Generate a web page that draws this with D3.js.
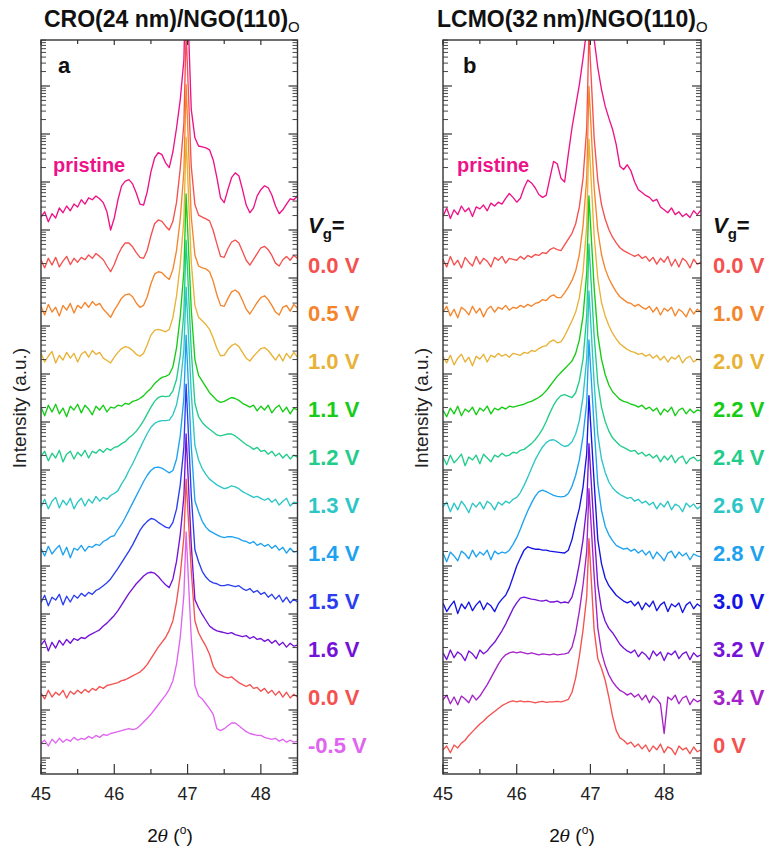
<!DOCTYPE html>
<html><head><meta charset="utf-8">
<script src="https://cdn.jsdelivr.net/npm/d3@7"></script>
<style>
body{margin:0;background:#fff}
svg text{font-family:"Liberation Sans",Arial,sans-serif}
</style>
</head><body>
<svg id="c" width="774" height="851"></svg>
<script>
// 2-theta grid (degrees)
const xGrid = [45.00,45.05,45.10,45.15,45.20,45.25,45.30,45.35,45.40,45.45,45.50,45.55,45.60,45.65,45.70,45.75,45.80,45.85,45.90,45.95,
46.00,46.05,46.10,46.15,46.20,46.25,46.30,46.35,46.40,46.45,46.50,46.55,46.60,46.65,46.70,46.75,46.80,46.85,46.90,46.95,
46.98,47.05,47.10,47.15,47.20,47.25,47.30,47.35,47.40,47.45,47.50,47.55,47.60,47.65,47.70,47.75,47.80,47.85,47.90,47.95,
48.00,48.05,48.10,48.15,48.20,48.25,48.30,48.35,48.40,48.45,48.50];

// Panel a: CRO(24 nm)/NGO(110)
const labelsA = ["pristine","0.0 V","0.5 V","1.0 V","1.1 V","1.2 V","1.3 V","1.4 V","1.5 V","1.6 V","0.0 V","-0.5 V"];
const colorsA = ["#ee1289","#f4514f","#f5852c","#e8b236","#17cc17","#22cc8a","#2cc6c6","#1ea2f0","#2a3ef0","#7412d8","#f4514f","#e064f0"];
const offsetsA = [11.42,10.33,9.33,8.33,7.25,6.29,5.31,4.31,3.29,2.35,1.31,0.31]; // log10 stacking factors
// log10 intensity relative to each trace's background
const a0 = [-0.15,-0.04,-0.25,-0.08,-0.17,0.04,-0.06,0.08,-0.02,0.12,0.06,0.21,0.12,0.25,0.21,0.29,0.23,0.15,-0.04,-0.42,
-0.17,0.21,0.5,0.6,0.63,0.54,0.35,0.12,0.1,0.38,0.79,1.08,1.19,1.15,0.98,0.88,1.21,1.71,2.29,3.13,
5.2,2.1,1.5,1.33,1.31,1.29,1.25,1.04,0.67,0.25,0.15,0.42,0.67,0.77,0.71,0.42,0.1,-0.06,0.04,0.29,0.42,0.5,0.46,0.31,0.08,-0.08,0,0.12,0.23,0.21,0.29];
const a1 = [0.05,-0.12,0.08,-0.06,0.1,-0.1,0.02,0.12,-0.05,0.08,0.0,0.1,0.05,0.15,0.08,0.18,0.12,0.05,-0.08,-0.2,
-0.05,0.15,0.3,0.4,0.4,0.32,0.2,0.1,0.08,0.25,0.55,0.8,0.88,0.85,0.75,0.67,0.85,1.25,1.95,2.9,
4.8,2.0,1.2,0.98,0.94,0.9,0.86,0.66,0.38,0.12,0.1,0.28,0.42,0.46,0.4,0.22,0.04,-0.06,0.06,0.18,0.3,0.33,0.26,0.14,-0.02,-0.08,0.05,0.12,0.04,0.14,0.08];
const a2 = [0.08,-0.1,0.12,-0.04,0.06,-0.12,0.1,0.0,0.14,-0.06,0.1,0.04,0.16,0.06,0.18,0.1,0.14,0.02,-0.06,-0.15,
0.0,0.12,0.25,0.32,0.34,0.28,0.15,0.06,0.1,0.28,0.55,0.75,0.8,0.78,0.7,0.64,0.85,1.25,1.9,2.9,
4.7,1.95,1.15,0.92,0.88,0.86,0.8,0.6,0.32,0.1,0.08,0.24,0.38,0.42,0.36,0.2,0.02,-0.08,0.04,0.16,0.26,0.3,0.22,0.1,-0.04,-0.1,0.06,0.1,-0.02,0.12,0.04];
const a3 = [0.1,-0.08,0.04,0.14,-0.1,0.06,-0.04,0.12,0.0,0.1,-0.08,0.08,0.14,0.02,0.16,0.08,0.12,0.0,-0.05,-0.1,
0.02,0.12,0.2,0.24,0.22,0.16,0.08,0.04,0.1,0.28,0.48,0.58,0.6,0.58,0.55,0.6,0.85,1.3,1.95,2.9,
4.6,2.0,1.1,0.85,0.78,0.7,0.6,0.42,0.2,0.05,0.06,0.18,0.26,0.3,0.24,0.12,0.0,-0.06,0.04,0.12,0.2,0.22,0.16,0.06,-0.04,0.08,-0.06,0.1,0.0,0.12,0.02];
const a4 = [0.06,-0.12,0.1,-0.04,0.12,-0.08,0.04,-0.14,0.08,0.0,0.12,-0.06,0.1,0.02,-0.1,0.08,0.0,0.1,-0.04,0.06,
0.04,0.1,0.08,0.14,0.12,0.18,0.2,0.24,0.3,0.38,0.45,0.55,0.62,0.68,0.7,0.74,0.9,1.3,1.95,2.9,
4.5,2.1,1.05,0.72,0.6,0.48,0.36,0.28,0.2,0.16,0.18,0.22,0.26,0.24,0.2,0.14,0.1,0.06,0.1,-0.02,0.08,0.0,0.1,-0.06,0.04,0.1,-0.04,0.06,-0.08,0.04,0.0];
const a5 = [0.0,0.1,-0.1,0.06,-0.04,0.12,-0.12,0.04,0.1,-0.06,0.08,0.0,0.12,-0.04,0.1,0.06,0.14,0.08,0.16,0.12,
0.18,0.2,0.26,0.3,0.38,0.44,0.52,0.62,0.74,0.88,1.02,1.14,1.22,1.25,1.24,1.25,1.36,1.6,2.1,3.0,
4.5,2.2,1.1,0.82,0.7,0.62,0.56,0.5,0.44,0.42,0.44,0.46,0.46,0.42,0.36,0.3,0.24,0.2,0.14,0.18,0.1,0.12,0.04,0.1,0.0,0.06,-0.04,0.04,-0.06,0.02,-0.02];
const a6 = [-0.08,0.08,-0.12,0.04,0.12,-0.1,0.06,-0.04,0.1,-0.12,0.02,0.1,-0.06,0.08,0.0,0.14,0.04,0.12,0.08,0.16,
0.2,0.26,0.4,0.52,0.68,0.82,0.98,1.14,1.3,1.45,1.58,1.66,1.7,1.72,1.72,1.73,1.84,2.05,2.45,3.2,
4.5,2.3,1.2,0.9,0.72,0.6,0.5,0.44,0.38,0.34,0.3,0.32,0.36,0.34,0.3,0.24,0.2,0.16,0.12,0.14,0.1,0.06,0.1,0.02,0.08,-0.04,0.04,0.1,-0.06,0.02,0.0];
const a7 = [0.06,-0.1,0.1,-0.06,0.04,0.12,-0.08,0.08,-0.14,0.06,0.02,0.12,0.0,0.1,0.08,0.14,0.12,0.2,0.24,0.3,
0.32,0.45,0.56,0.7,0.85,1.0,1.15,1.3,1.45,1.58,1.68,1.74,1.75,1.73,1.68,1.63,1.68,1.92,2.4,3.2,
4.5,2.2,1.05,0.82,0.62,0.5,0.42,0.38,0.34,0.3,0.28,0.3,0.3,0.28,0.26,0.22,0.2,0.16,0.2,0.12,0.16,0.1,0.14,0.06,0.12,0.02,0.08,-0.04,0.06,-0.02,0.0];
const a8 = [-0.05,0.1,-0.12,0.06,0.0,0.12,-0.1,0.08,-0.04,0.1,0.04,0.14,0.08,0.16,0.12,0.2,0.24,0.3,0.36,0.44,
0.55,0.66,0.78,0.9,1.02,1.15,1.3,1.45,1.56,1.64,1.7,1.68,1.62,1.57,1.52,1.5,1.62,1.9,2.4,3.2,
4.5,2.2,1.05,0.8,0.6,0.48,0.4,0.36,0.34,0.3,0.3,0.32,0.3,0.28,0.3,0.24,0.2,0.24,0.16,0.2,0.12,0.16,0.06,0.12,0.02,0.1,-0.04,0.06,-0.06,0.02,-0.04];
const a9 = [0.0,0.1,-0.12,0.06,-0.06,0.1,0.0,0.12,0.04,0.14,0.1,0.16,0.14,0.2,0.24,0.28,0.32,0.4,0.46,0.54,
0.62,0.72,0.84,0.96,1.08,1.18,1.28,1.36,1.44,1.5,1.52,1.5,1.43,1.34,1.26,1.2,1.38,1.75,2.3,3.1,
4.4,2.1,0.95,0.78,0.64,0.52,0.4,0.34,0.3,0.28,0.26,0.24,0.26,0.22,0.2,0.18,0.2,0.14,0.18,0.12,0.14,0.08,0.12,0.04,0.1,0.0,0.06,-0.04,0.04,-0.02,0.0];
const a10 = [0.04,-0.08,0.1,-0.04,0.06,0.0,0.1,-0.06,0.08,0.02,0.1,0.04,0.12,0.06,0.14,0.1,0.18,0.14,0.2,0.22,
0.24,0.26,0.3,0.32,0.36,0.4,0.44,0.48,0.55,0.64,0.76,0.88,1.0,1.1,1.2,1.35,1.55,1.95,2.5,3.3,
4.5,2.6,1.55,1.3,1.15,1.02,0.85,0.6,0.48,0.42,0.38,0.36,0.38,0.32,0.26,0.22,0.18,0.22,0.14,0.16,0.08,0.14,0.04,0.1,0.0,0.08,-0.04,0.06,-0.06,0.02,-0.04];
const a11 = [0.0,0.06,-0.06,0.08,0.0,0.1,0.02,0.08,0.04,0.12,0.06,0.1,0.08,0.14,0.1,0.16,0.12,0.18,0.16,0.2,
0.22,0.24,0.26,0.28,0.3,0.28,0.3,0.36,0.44,0.52,0.6,0.7,0.8,0.9,1.0,1.12,1.3,1.65,2.2,3.1,
4.4,2.2,1.2,0.98,0.92,0.82,0.72,0.6,0.3,0.26,0.3,0.36,0.42,0.42,0.36,0.3,0.24,0.2,0.18,0.16,0.16,0.12,0.1,0.08,0.1,0.04,0.08,0.02,0.06,0.02,0.04];
const seriesA = [a0,a1,a2,a3,a4,a5,a6,a7,a8,a9,a10,a11];

// Panel b: LCMO(32 nm)/NGO(110)
const labelsB = ["pristine","0.0 V","1.0 V","2.0 V","2.2 V","2.4 V","2.6 V","2.8 V","3.0 V","3.2 V","3.4 V","0 V"];
const colorsB = ["#ee1289","#f4514f","#f5852c","#e8b236","#14cc14","#22cc8a","#2cc6c6","#1ea2f0","#1414e6","#7412d8","#a422c8","#f4514f"];
const offsetsB = [11.38,10.33,9.29,8.29,7.21,6.21,5.23,4.21,3.15,2.15,1.21,0.17];
const b0 = [-0.1,0.08,-0.14,0.04,-0.06,0.12,0.0,0.08,-0.1,0.1,0.06,0.14,0.02,0.18,0.12,0.2,0.16,0.28,0.38,0.3,
0.2,0.28,0.5,0.66,0.6,0.5,0.36,0.3,0.34,0.7,1.05,1.0,0.7,0.62,1.2,1.75,2.2,2.65,3.2,3.8,
5.3,3.6,3.0,2.55,2.2,1.95,1.72,1.4,0.95,0.88,0.98,0.85,0.62,0.46,0.4,0.34,0.3,0.22,0.26,0.1,0.04,-0.02,0.08,-0.06,0.0,-0.1,-0.04,-0.12,0.02,-0.06,0.04];
const b1 = [0.06,-0.1,0.12,-0.06,0.04,-0.12,0.1,0.0,-0.08,0.12,-0.04,0.08,0.02,-0.1,0.1,0.04,0.12,-0.02,0.08,0.06,
0.04,0.12,0.06,0.14,0.1,0.16,0.14,0.2,0.18,0.26,0.3,0.26,0.24,0.36,0.48,0.6,0.8,1.15,1.75,2.8,
4.8,2.6,1.7,1.2,0.9,0.68,0.52,0.4,0.3,0.24,0.2,0.16,0.12,0.16,0.08,0.12,0.02,0.1,-0.04,0.08,0.0,0.12,-0.08,0.06,-0.1,0.08,0.02,-0.12,0.06,-0.04,0.0];
const b2 = [0.0,0.12,-0.08,0.06,-0.12,0.1,0.04,-0.06,0.12,-0.02,0.08,-0.1,0.06,0.12,0.0,0.1,0.06,0.14,0.04,0.1,
0.08,0.14,0.1,0.16,0.12,0.18,0.2,0.26,0.24,0.32,0.36,0.3,0.3,0.4,0.52,0.66,0.86,1.2,1.8,2.8,
4.7,2.6,1.7,1.2,0.9,0.7,0.55,0.42,0.32,0.26,0.2,0.18,0.12,0.16,0.1,0.06,0.12,0.0,0.1,-0.06,0.08,0.02,0.1,-0.08,0.06,0.0,-0.1,0.08,-0.04,0.06,0.0];
const b3 = [0.08,-0.06,0.1,-0.1,0.04,0.12,-0.04,0.06,-0.12,0.08,0.02,0.12,-0.04,0.1,0.06,0.14,0.08,0.12,0.06,0.14,
0.12,0.1,0.16,0.14,0.2,0.18,0.24,0.28,0.3,0.38,0.42,0.36,0.38,0.5,0.66,0.82,1.0,1.3,1.85,2.8,
4.6,2.6,1.7,1.2,0.92,0.72,0.56,0.44,0.34,0.28,0.22,0.18,0.16,0.12,0.14,0.08,0.12,0.04,0.1,0.0,0.08,-0.04,0.06,0.02,0.1,-0.06,0.04,0.08,-0.04,0.02,0.0];
const b4 = [0.04,-0.1,0.08,-0.04,0.12,-0.08,0.06,0.0,0.1,-0.06,0.08,0.02,0.12,-0.04,0.08,0.04,0.1,0.06,0.12,0.1,
0.12,0.14,0.16,0.2,0.22,0.26,0.3,0.36,0.44,0.54,0.64,0.74,0.82,0.9,0.98,1.06,1.22,1.5,2.0,2.9,
4.5,2.6,1.6,1.1,0.78,0.56,0.42,0.34,0.26,0.22,0.2,0.16,0.14,0.1,0.14,0.06,0.1,0.02,0.08,-0.06,0.06,0.0,0.1,-0.08,0.04,0.08,-0.04,0.06,-0.02,0.04,0.02];
const b5 = [0.06,-0.1,0.1,-0.06,0.02,0.12,-0.12,0.06,0.0,0.1,-0.08,0.12,0.04,-0.04,0.1,0.06,0.14,0.08,0.1,0.16,
0.14,0.2,0.22,0.28,0.34,0.42,0.52,0.64,0.8,0.98,1.14,1.26,1.34,1.36,1.33,1.3,1.4,1.65,2.1,3.0,
4.5,2.6,1.6,1.1,0.8,0.6,0.46,0.38,0.3,0.26,0.22,0.18,0.2,0.12,0.16,0.08,0.12,0.04,0.1,-0.04,0.08,0.0,0.1,-0.06,0.04,0.08,-0.08,0.02,0.06,-0.02,0.0];
const b6 = [0.0,0.1,-0.1,0.08,-0.06,0.12,0.02,-0.12,0.08,0.0,0.1,-0.04,0.12,0.06,-0.06,0.1,0.04,0.12,0.08,0.16,
0.2,0.3,0.45,0.62,0.8,0.98,1.12,1.25,1.34,1.39,1.4,1.36,1.3,1.26,1.28,1.36,1.52,1.8,2.3,3.1,
4.5,2.6,1.5,1.0,0.72,0.52,0.4,0.32,0.26,0.22,0.18,0.2,0.12,0.16,0.08,0.12,0.04,0.1,-0.04,0.08,0.0,0.12,-0.06,0.06,0.02,-0.1,0.08,0.0,0.06,-0.04,0.02];
const b7 = [0.06,-0.12,0.08,0.0,-0.1,0.1,0.04,-0.06,0.12,-0.02,0.08,0.02,0.12,-0.08,0.1,0.04,0.08,0.06,0.12,0.24,
0.38,0.56,0.76,0.94,1.1,1.24,1.34,1.37,1.34,1.3,1.26,1.24,1.23,1.24,1.3,1.45,1.68,2.0,2.5,3.2,
4.5,2.7,1.5,0.95,0.62,0.44,0.32,0.22,0.18,0.14,0.16,0.1,0.14,0.06,0.12,0.02,0.1,-0.06,0.08,0.0,-0.1,0.06,0.1,-0.04,0.08,0.0,0.06,-0.08,0.04,0.0,-0.02];
const b8 = [0.08,-0.1,0.02,0.12,-0.14,0.06,-0.04,0.1,-0.08,0.04,0.12,-0.06,0.08,0.02,-0.1,0.06,0.16,0.24,0.4,0.62,
0.85,1.02,1.18,1.25,1.22,1.2,1.2,1.18,1.18,1.16,1.15,1.14,1.13,1.12,1.18,1.4,1.75,2.05,2.5,3.2,
4.4,2.6,1.4,0.9,0.6,0.44,0.34,0.24,0.18,0.12,0.08,0.12,0.02,0.1,-0.06,0.08,0.0,0.12,-0.08,0.04,0.1,-0.1,0.06,0.0,0.08,-0.12,0.04,0.1,-0.04,0.06,0.0];
const b9 = [0.04,-0.1,0.1,-0.06,0.06,0.0,-0.12,0.08,0.02,-0.08,0.1,0.02,0.08,0.18,0.26,0.38,0.5,0.64,0.8,0.96,
1.08,1.18,1.2,1.18,1.16,1.15,1.13,1.12,1.14,1.1,1.1,1.12,1.08,1.1,1.08,1.2,1.5,1.9,2.4,3.1,
4.4,2.6,1.45,0.95,0.7,0.55,0.46,0.34,0.22,0.14,0.08,0.04,0.1,-0.04,0.06,0.0,-0.1,0.08,-0.02,0.06,-0.12,0.04,0.0,0.08,-0.08,0.02,0.06,-0.1,0.04,-0.04,0.0];
const b10 = [0.0,0.1,-0.08,0.06,-0.1,0.08,0.02,-0.06,0.1,0.0,0.08,0.2,0.32,0.46,0.6,0.74,0.86,0.94,0.98,1.0,
0.98,1.0,0.98,0.96,0.98,0.96,0.94,0.96,0.95,0.94,0.96,0.94,0.95,0.96,0.98,1.1,1.4,1.85,2.4,3.1,
4.4,2.6,1.5,1.0,0.72,0.52,0.38,0.28,0.2,0.16,0.1,0.14,0.06,0.12,0.0,0.1,-0.06,0.08,0.02,-0.08,-0.7,0.06,0.0,0.1,-0.08,0.04,0.08,-0.1,0.02,-0.04,0.0];
const b11 = [0.0,0.08,-0.06,0.1,0.04,0.14,0.2,0.3,0.38,0.46,0.54,0.6,0.68,0.74,0.8,0.86,0.92,0.96,1.0,1.02,
1.0,1.02,1.0,1.01,1.0,0.98,1.0,1.01,0.99,1.0,1.0,1.01,1.0,1.02,1.05,1.2,1.5,1.95,2.5,3.2,
4.4,2.5,1.9,1.7,1.45,1.1,0.7,0.4,0.25,0.2,0.12,0.16,0.06,0.12,0.02,0.1,-0.04,0.08,0.0,0.12,-0.06,0.06,0.02,-0.1,0.08,0.0,0.04,-0.08,0.06,-0.04,0.0];
const seriesB = [b0,b1,b2,b3,b4,b5,b6,b7,b8,b9,b10,b11];

const xMajor = [45,46,47,48];
const xMinor = [45.5,46.5,47.5];
const xDomain = [45,48.5];

// ---------- drawing ----------
const svg = d3.select("#c");
const TOP = 40, BOTTOM = 774;
const y = d3.scaleLog().domain([Math.pow(10,-1/3), Math.pow(10,718/48)]).range([BOTTOM, TOP]);
const yMajor = d3.range(0,15).map(k=>Math.pow(10,k));
const yMinor = [];
for (let k=-1;k<15;k++) for (let m=2;m<10;m++){ const v=m*Math.pow(10,k); if (v>y.domain()[0] && v<y.domain()[1]) yMinor.push(v); }

const panels = [
  {key:"a", x0:41, x1:297.5, series:seriesA, offsets:offsetsA, colors:colorsA, labels:labelsA,
   title:"CRO(24 nm)/NGO(110)", titleX:44, prX:53, labX:308, ylabX:26, xTitleX:170},
  {key:"b", x0:443, x1:701, series:seriesB, offsets:offsetsB, colors:colorsB, labels:labelsB,
   title:"LCMO(32\u2009nm)/NGO(110)", titleX:437, prX:457, labX:713, ylabX:428, xTitleX:572}
];

panels.forEach(p=>{
  const x = d3.scaleLinear().domain(xDomain).range([p.x0, p.x1]);
  const g = svg.append("g");
  const clipId = "clip"+p.key;
  svg.append("clipPath").attr("id",clipId).append("rect")
    .attr("x",p.x0).attr("y",TOP).attr("width",p.x1-p.x0).attr("height",BOTTOM-TOP);
  const line = d3.line().x(d=>x(d[0])).y(d=>y(d[1]));
  const gl = g.append("g").attr("clip-path",`url(#${clipId})`);
  p.series.forEach((s,i)=>{
    const pts = xGrid.map((xv,j)=>[xv, Math.pow(10, p.offsets[i]+s[j])]);
    gl.append("path").attr("d",line(pts)).attr("fill","none")
      .attr("stroke",p.colors[i]).attr("stroke-width",1.35).attr("stroke-linejoin","round");
  });
  // frame
  g.append("rect").attr("x",p.x0).attr("y",TOP).attr("width",p.x1-p.x0).attr("height",BOTTOM-TOP)
    .attr("fill","none").attr("stroke","#333").attr("stroke-width",1.4);
  const tk = g.append("g").attr("stroke","#333").attr("stroke-width",1.2);
  xMajor.forEach(v=>{
    tk.append("line").attr("x1",x(v)).attr("x2",x(v)).attr("y1",BOTTOM).attr("y2",BOTTOM-10);
    tk.append("line").attr("x1",x(v)).attr("x2",x(v)).attr("y1",TOP).attr("y2",TOP+5);
  });
  xMinor.forEach(v=>{
    tk.append("line").attr("x1",x(v)).attr("x2",x(v)).attr("y1",BOTTOM).attr("y2",BOTTOM-5);
    tk.append("line").attr("x1",x(v)).attr("x2",x(v)).attr("y1",TOP).attr("y2",TOP+4);
  });
  yMajor.forEach(v=>{
    tk.append("line").attr("x1",p.x0).attr("x2",p.x0+9).attr("y1",y(v)).attr("y2",y(v));
    tk.append("line").attr("x1",p.x1).attr("x2",p.x1-9).attr("y1",y(v)).attr("y2",y(v));
  });
  yMinor.forEach(v=>{
    tk.append("line").attr("x1",p.x0).attr("x2",p.x0+5).attr("y1",y(v)).attr("y2",y(v)).attr("stroke-width",0.9);
    tk.append("line").attr("x1",p.x1).attr("x2",p.x1-5).attr("y1",y(v)).attr("y2",y(v)).attr("stroke-width",0.9);
  });
  // x tick labels
  xMajor.forEach(v=>{
    g.append("text").attr("x",x(v)).attr("y",800).attr("text-anchor","middle")
      .attr("font-size",18).attr("fill","#222").text(v);
  });
  // x title
  const xt = g.append("text").attr("x",p.xTitleX).attr("y",842).attr("text-anchor","middle")
    .attr("font-size",19).attr("fill","#111");
  xt.append("tspan").text("2");
  xt.append("tspan").attr("font-style","italic").attr("font-family","DejaVu Serif, serif").attr("font-size",17).text("\u03b8");
  xt.append("tspan").text(" (");
  xt.append("tspan").attr("font-size",12).attr("dy",-8).text("o");
  xt.append("tspan").attr("dy",8).text(")");
  // y title
  g.append("text").attr("transform",`translate(${p.ylabX},408) rotate(-90)`).attr("text-anchor","middle")
    .attr("font-size",19).attr("fill","#222").text("Intensity (a.u.)");
  // panel title
  const tt = g.append("text").attr("x",p.titleX).attr("y",27).attr("font-size",23)
    .attr("font-weight","bold").attr("fill","#111");
  tt.append("tspan").text(p.title);
  tt.append("tspan").attr("font-size",15).attr("font-weight","normal").attr("dy",5).text("O");
  // panel letter
  g.append("text").attr("x",p.key==="a"?58:463).attr("y",73).attr("font-size",22)
    .attr("font-weight","bold").attr("fill","#111").text(p.key);
  // pristine label
  g.append("text").attr("x",p.prX).attr("y",172).attr("font-size",20).attr("font-weight","bold")
    .attr("fill",p.colors[0]).text(p.labels[0]);
  // Vg=
  const vg = g.append("text").attr("x",p.labX).attr("y",233).attr("font-size",22)
    .attr("font-weight","bold").attr("fill","#111");
  vg.append("tspan").attr("font-style","italic").text("V");
  vg.append("tspan").attr("font-size",15).attr("dy",6).text("g");
  vg.append("tspan").attr("dy",-6).text("=");
  p.labels.forEach((l,i)=>{
    if (i===0) return;
    g.append("text").attr("x",p.labX).attr("y",273+48*(i-1)).attr("font-size",22)
      .attr("font-weight","bold").attr("fill",p.colors[i]).text(l);
  });
});
</script>
</body></html>
